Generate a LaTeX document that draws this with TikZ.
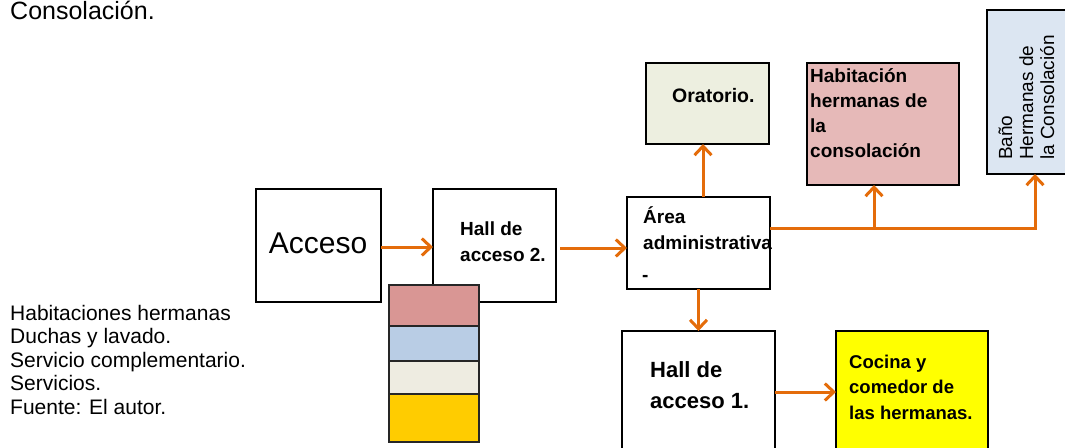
\documentclass[tikz,border=0pt]{standalone}
\usepackage{fontspec}
\setmainfont{Liberation Sans}
\usetikzlibrary{arrows.meta,positioning}
\definecolor{arrorange}{HTML}{E46C0A}
\definecolor{oratfill}{HTML}{EDEFE0}
\definecolor{habfill}{HTML}{E6B9B8}
\definecolor{banofill}{HTML}{DCE6F2}
\definecolor{cocfill}{HTML}{FFFF00}
\definecolor{stpink}{HTML}{D99694}
\definecolor{stblue}{HTML}{B9CDE5}
\definecolor{stbeige}{HTML}{EEECE1}
\definecolor{styellow}{HTML}{FFCC00}
\tikzset{
  box/.style={draw=black, line width=1.5pt, anchor=north west, inner sep=0pt, outer sep=0pt},
  stackbox/.style={draw=black!85, line width=2pt, anchor=north west, inner sep=0pt, outer sep=0pt, minimum width=90pt},
  arr/.style={draw=arrorange, line width=3pt, -{Straight Barb[length=9pt,width=17pt,line width=3pt]}},
  conn/.style={draw=arrorange, line width=3pt},
  lbl/.style={anchor=base west, inner sep=0pt, align=left},
}
\begin{document}
\begin{tikzpicture}[x=1pt,y=-1pt]
\useasboundingbox (0,0) rectangle (1065,447);
\clip (0,0) rectangle (1065,447);

% top text
\node[lbl, font=\fontsize{25}{30}\selectfont] (cons) at (10,19) {Consolación.};

% boxes (text nodes are placed at the baseline of their last line)
\node[box, minimum width=125pt, minimum height=113pt] (acc) at (256,189) {};
\node[font=\fontsize{30}{36}\selectfont, inner sep=0pt] (acctxt) at (318,243) {Acceso};

\node[box, minimum width=123pt, minimum height=113pt] (hall2) at (433,189) {};
\node[lbl, font=\bfseries\fontsize{19}{26}\selectfont] (hall2txt) at (460,261) {Hall de\\acceso 2.};

\node[box, minimum width=143pt, minimum height=92pt] (area) at (627,197) {};
\node[lbl, font=\bfseries\fontsize{19}{26}\selectfont] (areatxt) at (643,249) {Área\\administrativa};
\node[lbl, font=\bfseries\fontsize{19}{26}\selectfont] (areadash) at (642,281) {-};

\node[box, fill=oratfill, minimum width=123pt, minimum height=81pt] (orat) at (646,63) {};
\node[lbl, font=\bfseries\fontsize{19.5}{22}\selectfont] (orattxt) at (672,102) {Oratorio.};

\node[box, fill=habfill, minimum width=152pt, minimum height=122pt] (hab) at (807,63) {};
\node[lbl, font=\bfseries\fontsize{19}{25}\selectfont] (habtxt) at (810,157) {Habitación\\hermanas de\\la\\consolación};

\node[box, fill=banofill, minimum width=90pt, minimum height=164pt] (bano) at (987,10) {};
\node[lbl, rotate=90, font=\fontsize{19}{21}\selectfont] (banotxt) at (1054,160) {Baño\\Hermanas de\\la Consolación};

\node[box, minimum width=153pt, minimum height=130pt] (hall1) at (622,331) {};
\node[lbl, font=\bfseries\fontsize{22}{31}\selectfont] (hall1txt) at (650,408) {Hall de\\acceso 1.};

\node[box, fill=cocfill, minimum width=152pt, minimum height=130pt] (coc) at (836,331) {};
\node[lbl, font=\bfseries\fontsize{18.5}{25.5}\selectfont] (coctxt) at (849,419) {Cocina y\\comedor de\\las hermanas.};

% colour stack
\node[stackbox, fill=stpink, minimum height=41pt] (s1) at (389,285) {};
\node[stackbox, fill=stblue, minimum height=35pt] (s2) at (389,326) {};
\node[stackbox, fill=stbeige, minimum height=33pt] (s3) at (389,361) {};
\node[stackbox, fill=styellow, minimum height=48pt] (s4) at (389,394) {};

% legend
\node[lbl, font=\fontsize{21}{23.5}\selectfont] (legend) at (10,414) {Habitaciones hermanas\\Duchas y lavado.\\Servicio complementario.\\Servicios.\\Fuente: El autor.};

% connectors
\draw[arr] (acc.east |- 0,247) -- (hall2.west |- 0,247);
\draw[arr] ([xshift=4pt]hall2.east |- 0,248) -- (area.west |- 0,248);
\draw[arr] ([xshift=-4.5pt]orat.south |- area.north) -- ([xshift=-4.5pt]orat.south);
\draw[arr] (area.south) -- (hall1.north);
\coordinate (junc) at (874,228);
\coordinate (corner) at (1035,228);
\draw[conn] (area.east |- junc) -- (junc);
\draw[arr] (junc) -- (corner) -- (corner |- bano.south);
\draw[arr] (junc) -- (junc |- hab.south);
\draw[arr] (hall1.east |- 0,392) -- (coc.west |- 0,392);
\end{tikzpicture}
\end{document}
